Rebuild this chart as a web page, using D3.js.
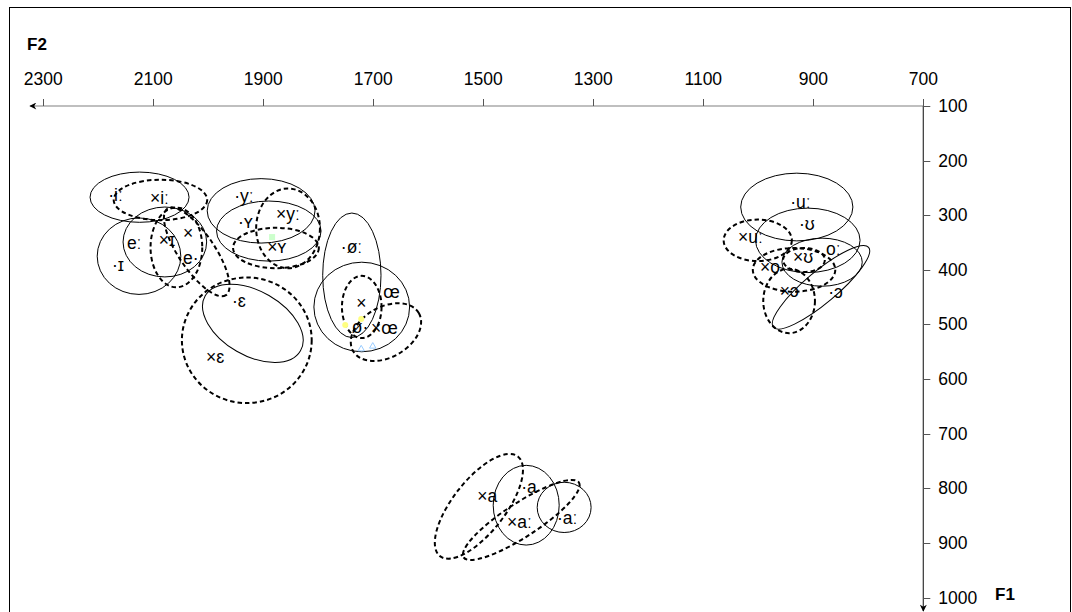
<!DOCTYPE html>
<html>
<head>
<meta charset="utf-8">
<script src="https://cdn.jsdelivr.net/npm/d3@7"></script>
<style>
body { margin: 0; background: #fff; }
svg { display: block; }
text { font-family: "Liberation Sans", Arial, "DejaVu Sans", sans-serif; }
</style>
</head>
<body>
<svg id="svg0" width="1072" height="612"></svg>
<script>

// vowel categories
var vowels = ['iː', 'ɪ', 'eː', 'yː', 'ʏ', 'ɛ', 'øː', 'œ', 'uː', 'ʊ', 'oː', 'ɔ', 'a', 'aː'];

// native speakers (solid ellipses): mean F2, F1, spread, tilt
var nativeF2   = [2125, 2126, 2079, 1904, 1890, 1919, 1739, 1721,  930,  910,  884,  886, 1422, 1353];
var nativeF1   = [ 267,  375,  349,  292,  329,  498,  410,  468,  285,  346,  386,  432,  831,  835];
var nativeSdF2 = [  90,   76,   76,   98,   95,  100,   53,   87,  102,   95,   73,  113,   60,   49];
var nativeSdF1 = [  46,   70,   64,   59,   55,   59,  114,   82,   62,   59,   44,   29,   73,   46];
var nativeTilt = [   0,    0,    0,    0,    0,   30,    0,    0,    0,    0,    0,  -40,    0,    0];

// learners (dashed ellipses)
var learnerF2   = [2087, 2058, 2021, 1855, 1877, 1930, 1721, 1677, 1001,  917,  935,  944, 1508, 1431];
var learnerF1   = [ 272,  359,  367,  324,  360,  529,  468,  514,  346,  382,  400,  457,  833,  858];
var learnerSdF2 = [  85,   47,   95,   58,   78,  118,   36,   69,   62,   38,   75,   47,  115,  125];
var learnerSdF1 = [  37,   73,   33,   73,   37,  115,   57,   46,   38,   22,   40,   59,   48,   31];
var learnerTilt = [   0,    0,   56,    0,    0,    0,    0,  -30,    0,    0,    0,    0,  -52,  -33];

// point labels as they appear on the chart
var nativeLabels   = ['·iː', '·ɪ', 'eː', '·yː', '·ʏ', '·ɛ', '·øː', 'œ', 'ø·', '·uː', '·ʊ', 'oː', '·ɔ', '·a', '·aː'];
var nativeLabelF2  = [2182, 2175, 2148, 1953, 1946, 1957, 1759, 1682, 1739,  942,  926,  877,  873, 1431, 1366];
var nativeLabelF1  = [ 274,  402,  362,  276,  324,  468,  369,  452,  516,  287,  327,  373,  452,  809,  866];

var learnerLabels  = ['×iː', '×ɪ', '×', 'e·', '×yː', '×ʏ', '×ɛ', '×', '×œ', '×uː', '×ʊ', '×o', '×ɔ', '×a', '×aː'];
var learnerLabelF2 = [2106, 2090, 2046, 2046, 1877, 1893, 2004, 1731, 1704, 1037,  937,  997,  961, 1511, 1457];
var learnerLabelF1 = [ 280,  356,  344,  389,  309,  369,  571,  472,  518,  351,  388,  406,  450,  826,  873];

// stray coloured markers
var dotF2 = [1751, 1722];
var dotF1 = [ 501,  490];
var triF2 = [1722, 1701];
var triF1 = [ 545,  540];
var sqF2 = [1884];
var sqF1 = [ 340];

var xTicks = [2300, 2100, 1900, 1700, 1500, 1300, 1100, 900, 700];
var yTicks = [100, 200, 300, 400, 500, 600, 700, 800, 900, 1000];

var svg0 = d3.select('#svg0');

var x = d3.scaleLinear().domain([2300, 700]).range([43.3, 923.3]);
var y = d3.scaleLinear().domain([100, 1000]).range([106, 597.5]);

// outer frame
svg0.append('rect')
    .attr('x', 9.5).attr('y', 7.5)
    .attr('width', 1061).attr('height', 640)
    .attr('fill', 'none')
    .attr('stroke', 'black')
    .attr('stroke-width', 1);

var defs0 = svg0.append('defs');
defs0.append('marker')
    .attr('id', 'arrow')
    .attr('viewBox', '0 0 10 10')
    .attr('refX', 9).attr('refY', 5)
    .attr('markerWidth', 9).attr('markerHeight', 7)
    .attr('markerUnits', 'userSpaceOnUse')
    .attr('orient', 'auto')
    .append('path')
    .attr('d', 'M0,0 L10,5 L0,10 L3,5 Z')
    .attr('fill', 'black');

// F2 axis (top, reversed)
svg0.append('line')
    .attr('x1', x(700)).attr('y1', y(100))
    .attr('x2', 30).attr('y2', y(100))
    .attr('stroke', '#808080')
    .attr('stroke-width', 1.2)
    .attr('marker-end', 'url(#arrow)');

svg0.selectAll('.xtick')
    .data(xTicks)
    .enter()
    .append('line')
    .attr('class', 'xtick')
    .attr('x1', function(d){ return Math.round(x(d)) + 0.5; })
    .attr('x2', function(d){ return Math.round(x(d)) + 0.5; })
    .attr('y1', y(100) - 7).attr('y2', y(100))
    .attr('stroke', '#555');

svg0.selectAll('.xlab')
    .data(xTicks)
    .enter()
    .append('text')
    .attr('class', 'xlab')
    .attr('x', function(d){ return x(d); })
    .attr('y', 85)
    .attr('text-anchor', 'middle')
    .attr('font-size', 17.5)
    .text(function(d){ return d; });

// F1 axis (right, downward)
svg0.append('line')
    .attr('x1', x(700)).attr('y1', y(100))
    .attr('x2', x(700)).attr('y2', 611)
    .attr('stroke', '#333')
    .attr('stroke-width', 1.2)
    .attr('marker-end', 'url(#arrow)');

svg0.selectAll('.ytick')
    .data(yTicks)
    .enter()
    .append('line')
    .attr('class', 'ytick')
    .attr('x1', x(700)).attr('x2', x(700) + 7)
    .attr('y1', function(d){ return Math.round(y(d)) + 0.5; })
    .attr('y2', function(d){ return Math.round(y(d)) + 0.5; })
    .attr('stroke', '#555');

svg0.selectAll('.ylab')
    .data(yTicks)
    .enter()
    .append('text')
    .attr('class', 'ylab')
    .attr('x', x(700) + 15)
    .attr('y', function(d){ return y(d) + 6; })
    .attr('font-size', 17.5)
    .text(function(d){ return d; });

svg0.append('text')
    .attr('x', 27).attr('y', 50)
    .attr('font-size', 17)
    .attr('font-weight', 'bold')
    .text('F2');

svg0.append('text')
    .attr('x', 995).attr('y', 600)
    .attr('font-size', 17)
    .attr('font-weight', 'bold')
    .text('F1');

// ellipses
function ellipseRows(f2, f1, s2, s1, tilt) {
    return vowels.map(function(v, i){
        return {v: v, f2: f2[i], f1: f1[i], s2: s2[i], s1: s1[i], t: tilt[i]};
    });
}

var kx = Math.abs(x(0) - x(1));
var ky = Math.abs(y(1) - y(0));

function drawEllipses(rows, cls, dash, sw) {
    svg0.selectAll('.' + cls)
        .data(rows)
        .enter()
        .append('ellipse')
        .attr('class', cls)
        .attr('cx', function(d){ return x(d.f2); })
        .attr('cy', function(d){ return y(d.f1); })
        .attr('rx', function(d){ return d.s2 * kx; })
        .attr('ry', function(d){ return d.s1 * ky; })
        .attr('transform', function(d){
            return 'rotate(' + d.t + ',' + x(d.f2) + ',' + y(d.f1) + ')';
        })
        .attr('fill', 'none')
        .attr('stroke', 'black')
        .attr('stroke-width', sw)
        .attr('stroke-dasharray', dash);
}

drawEllipses(ellipseRows(nativeF2, nativeF1, nativeSdF2, nativeSdF1, nativeTilt), 'native', null, 1);
drawEllipses(ellipseRows(learnerF2, learnerF1, learnerSdF2, learnerSdF1, learnerTilt), 'learner', '4.5,3', 2);

// stray markers
svg0.selectAll('.dot')
    .data(dotF2)
    .enter()
    .append('circle')
    .attr('cx', function(d){ return x(d); })
    .attr('cy', function(d, i){ return y(dotF1[i]); })
    .attr('r', 3)
    .attr('fill', '#ffff80');

svg0.selectAll('.tri')
    .data(triF2)
    .enter()
    .append('path')
    .attr('d', d3.symbol().type(d3.symbolTriangle).size(18))
    .attr('transform', function(d, i){ return 'translate(' + x(d) + ',' + y(triF1[i]) + ')'; })
    .attr('fill', 'none')
    .attr('stroke', '#99ccff');

svg0.selectAll('.sq')
    .data(sqF2)
    .enter()
    .append('rect')
    .attr('x', function(d){ return x(d) - 3; })
    .attr('y', function(d, i){ return y(sqF1[i]) - 3; })
    .attr('width', 6).attr('height', 6)
    .attr('fill', '#ccffcc');

// labels
function drawLabels(txt, f2, f1, cls) {
    svg0.selectAll('.' + cls)
        .data(txt)
        .enter()
        .append('text')
        .attr('class', cls)
        .attr('x', function(d, i){ return x(f2[i]); })
        .attr('y', function(d, i){ return y(f1[i]); })
        .attr('font-size', 17.5)
        .text(function(d){ return d; });
}

drawLabels(nativeLabels, nativeLabelF2, nativeLabelF1, 'nlab');
drawLabels(learnerLabels, learnerLabelF2, learnerLabelF1, 'llab');

</script>
</body>
</html>
